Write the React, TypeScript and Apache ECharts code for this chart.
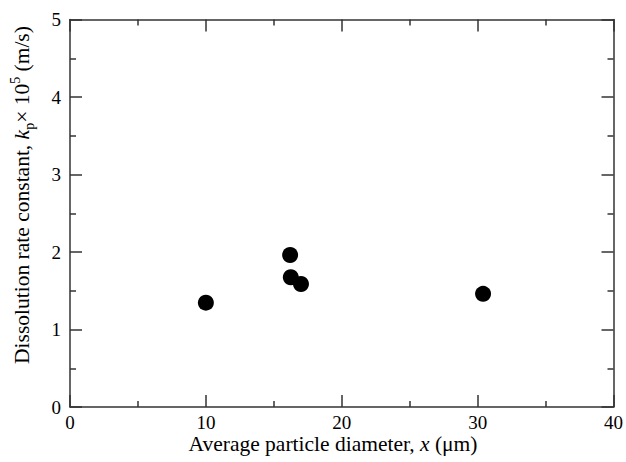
import React, { useEffect, useRef } from "react";
import * as echarts from "echarts";

const xValues = [10.0, 16.2, 16.25, 17.0, 30.4];
const yValues = [1.346, 1.961, 1.674, 1.587, 1.46];
const xTicks = [0, 10, 20, 30, 40];
const yTicks = [0, 1, 2, 3, 4, 5];
const xTitle = "{r|Average particle diameter, }{i|x}{r| (μm)}";
const yTitle = "{r|Dissolution rate constant, }{i|k}{sub|p}{r|× 10}{sup|5}{r| (m/s)}";

const FONT = "Liberation Serif";
const AXIS_COLOR = "#333";

export default function App() {
  const ref = useRef<HTMLDivElement>(null);
  useEffect(() => {
    if (!ref.current) return;
    const chart = echarts.init(ref.current, undefined, { renderer: "svg" });
    const lineStyle = { color: AXIS_COLOR, width: 1.5 };
    const baseX = {
      type: "value" as const,
      min: xTicks[0],
      max: xTicks[xTicks.length - 1],
      interval: 10,
      minorTick: { show: true, splitNumber: 2, length: 6, lineStyle },
      axisLine: { show: true, onZero: false, lineStyle },
      axisTick: { show: true, inside: true, length: 12, lineStyle },
      splitLine: { show: false },
    };
    const baseY = {
      type: "value" as const,
      min: yTicks[0],
      max: yTicks[yTicks.length - 1],
      interval: 1,
      minorTick: { show: true, splitNumber: 2, length: 6, lineStyle },
      axisLine: { show: true, onZero: false, lineStyle },
      axisTick: { show: true, inside: true, length: 12, lineStyle },
      splitLine: { show: false },
    };
    const rich = {
      r: { fontFamily: FONT, fontSize: 21.5, color: "#000", lineHeight: 28, verticalAlign: "middle" },
      i: { fontFamily: FONT, fontSize: 21.5, fontStyle: "italic", color: "#000", lineHeight: 28, verticalAlign: "middle" },
      sub: { fontFamily: FONT, fontSize: 14, color: "#000", lineHeight: 28, verticalAlign: "bottom" },
      sup: { fontFamily: FONT, fontSize: 14, color: "#000", lineHeight: 28, verticalAlign: "top" },
    };
    chart.setOption({
      animation: false,
      grid: { left: 70, right: 12, top: 19.5, bottom: 55 },
      xAxis: [
        {
          ...baseX,
          position: "bottom",
          axisLabel: { fontFamily: FONT, fontSize: 19, color: "#000", margin: 6 },
        },
        { ...baseX, position: "top", axisLabel: { show: false } },
      ],
      yAxis: [
        {
          ...baseY,
          position: "left",
          axisLabel: { fontFamily: FONT, fontSize: 19, color: "#000", margin: 9 },
        },
        { ...baseY, position: "right", axisLabel: { show: false } },
      ],
      graphic: [
        {
          type: "text",
          x: 333,
          y: 444,
          style: { text: xTitle, rich, align: "center", verticalAlign: "middle" },
        },
        {
          type: "text",
          x: 22,
          y: 195,
          rotation: Math.PI / 2,
          style: { text: yTitle, rich, align: "center", verticalAlign: "middle" },
        },
      ],
      series: [
        {
          type: "scatter",
          data: xValues.map((x, i) => [x, yValues[i]]),
          symbol: "circle",
          symbolSize: 16,
          itemStyle: { color: "#000", opacity: 1 },
        },
      ],
    });
    return () => chart.dispose();
  }, []);
  return <div ref={ref} style={{ width: 626, height: 462, position: "absolute", left: 0, top: 0 }} />;
}
